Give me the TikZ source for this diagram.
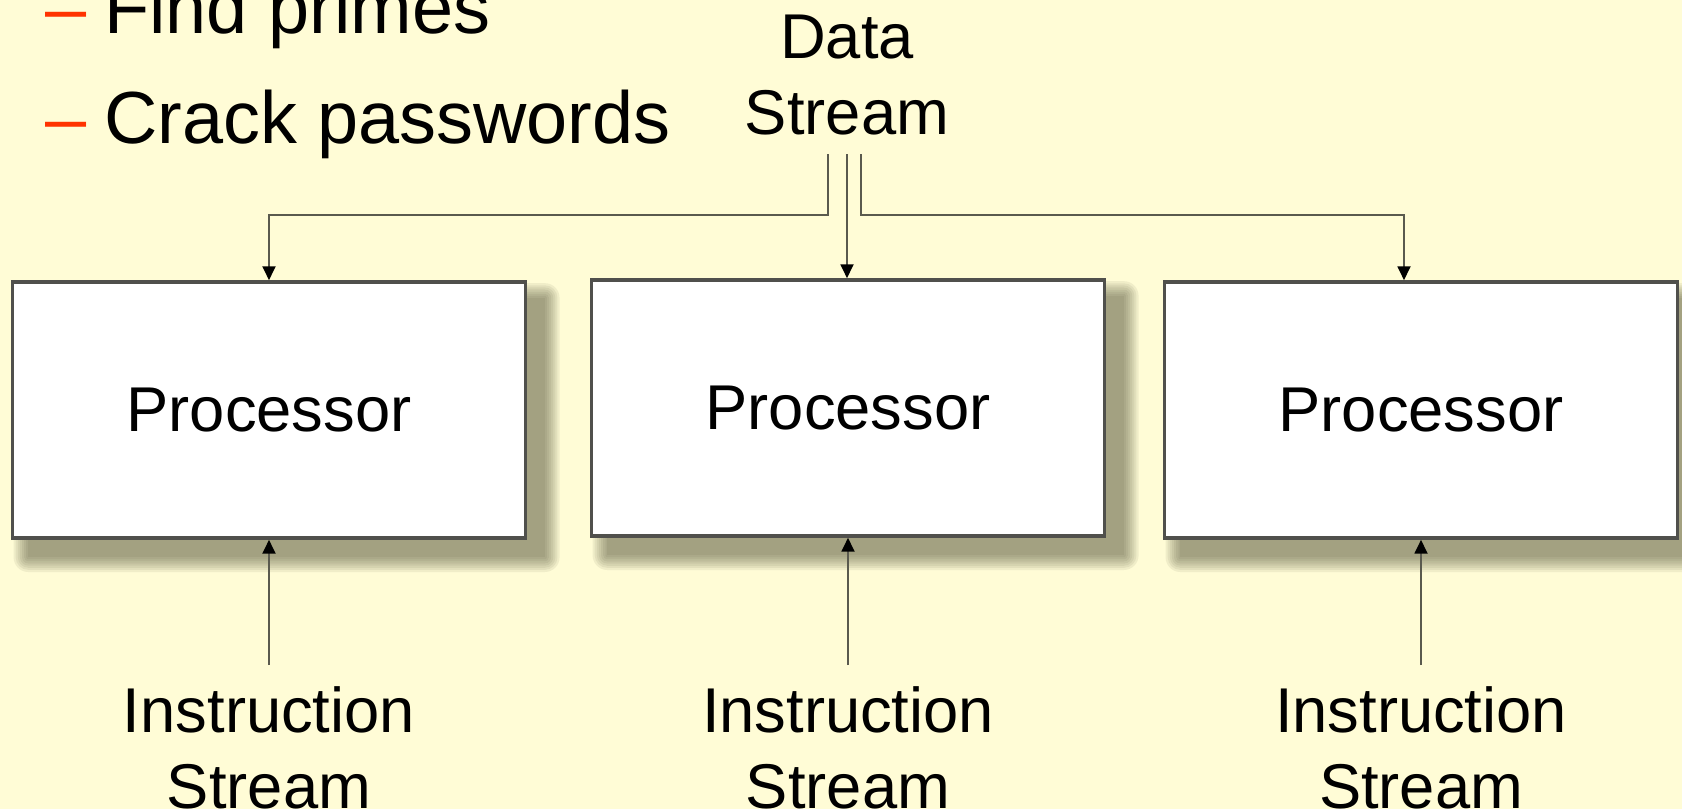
\documentclass[tikz,border=0pt]{standalone}
\usepackage{fontspec}
\setmainfont{Liberation Sans}
\usetikzlibrary{arrows.meta,backgrounds}
\definecolor{fondjaune}{RGB}{255,252,214}
\definecolor{tiretrouge}{RGB}{255,51,0}
\definecolor{traitgris}{RGB}{90,90,78}
\definecolor{bordgris}{RGB}{80,80,76}
\definecolor{ombre}{RGB}{70,70,45}
\tikzset{
	proc/.style={draw=bordgris, line width=0.9pt, fill=white,
		minimum width=5.13cm, minimum height=2.56cm,
		font=\fontsize{18}{21.5}\selectfont},
	flux/.style={align=center, inner sep=0pt, font=\fontsize{18}{21.5}\selectfont},
	fleche/.style={draw=traitgris, line width=0.8pt,
		-{Triangle[length=4pt,width=3.6pt,color=black]}},
	liste/.style={anchor=base west, inner sep=0pt, font=\fontsize{21}{25}\selectfont},
	couche/.style={fill=ombre, opacity=0.08}
}
\begin{document}
\begin{tikzpicture}[x=0.01cm, y=-0.01cm]

		\useasboundingbox (0,0) rectangle (1682,809);

		% Liste à gauche
		\node[liste] (l1) at (45,33) {\textcolor{tiretrouge}{–}\hspace{5pt}Find primes};
		\node[liste] (l2) at (45,143) {\textcolor{tiretrouge}{–}\hspace{5pt}Crack passwords};

		% Processeurs
		\node[proc] (p1) at (269,410) {Processor};
		\node[proc] (p2) at (848,408) {Processor};
		\node[proc] (p3) at (1421,410) {Processor};

		% Fond et ombres
		\begin{scope}[on background layer]
			\fill[fondjaune] (0,0) rectangle (1682,809);
			\foreach \b in {p1,p2,p3}
				\foreach \k in {0,...,7}
					\fill[couche, rounded corners=0.6*\k pt]
						([xshift=5pt-0.6*\k pt, yshift=-5pt-0.6*\k pt]\b.south west)
						rectangle ([xshift=5pt+0.6*\k pt, yshift=-5pt+0.6*\k pt]\b.north east);
		\end{scope}

		% Flux de données (en haut)
		\node[flux] (data) at (847,75) {Data\\Stream};
		\coordinate (dg) at (828,154);
		\coordinate (dm) at (847,154);
		\coordinate (dd) at (861,154);
		\draw[fleche] (dg) -- ++(0,61) -| (p1.north);
		\draw[fleche] (dm) -- (dm |- p2.north);
		\draw[fleche] (dd) -- ++(0,61) -| ([xshift=-0.17cm]p3.north);

		% Flux d'instructions (en bas)
		\node[flux] (i1) at (269,748) {Instruction\\Stream};
		\node[flux] (i2) at (848,748) {Instruction\\Stream};
		\node[flux] (i3) at (1421,748) {Instruction\\Stream};
		\draw[fleche] ([yshift=6pt]i1.north) -- (p1.south);
		\draw[fleche] ([yshift=6pt]i2.north) -- (p2.south);
		\draw[fleche] ([yshift=6pt]i3.north) -- (p3.south);

	\end{tikzpicture}
\end{document}
